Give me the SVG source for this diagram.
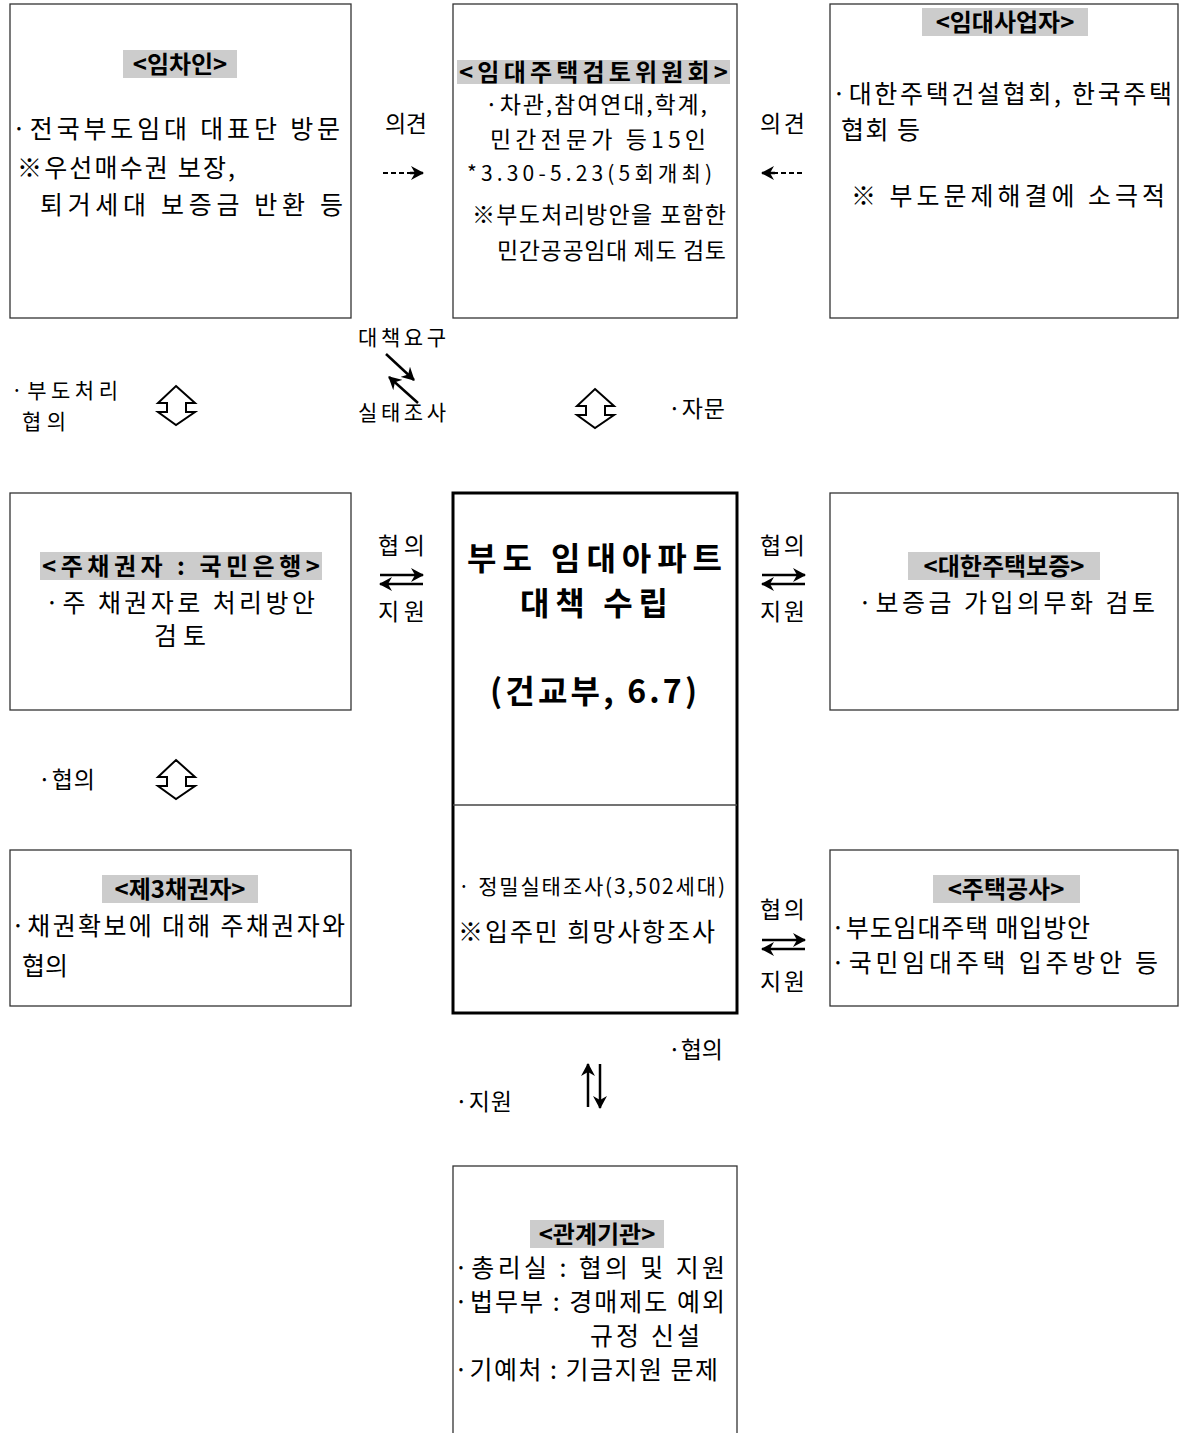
<svg xmlns="http://www.w3.org/2000/svg" width="1182" height="1433" viewBox="0 0 1182 1433">
<style>
.box{fill:#fff;stroke:#333;stroke-width:1.3}
.main{fill:none;stroke:#000;stroke-width:3}
.t{font-family:"Noto Sans CJK KR","Noto Sans",sans-serif;font-size:25px;fill:#000}
.m{font-size:23px}
.s{font-size:21px}
.h{font-weight:bold;font-size:24px}
.big{font-size:32px;font-weight:bold}
.hl{fill:#cccccc}
.ln{stroke:#000;stroke-width:2.5;fill:none}
.dl{stroke:#000;stroke-width:1.8;fill:none;stroke-dasharray:5 3}
.ho{fill:#fff;stroke:#000;stroke-width:2}
</style>
<defs>
<marker id="ah" markerUnits="userSpaceOnUse" markerWidth="14" markerHeight="14" viewBox="0 0 14 14" refX="12" refY="7" orient="auto">
<path d="M0,0 L13,7 L0,14 L4,7 z" fill="#000"/>
</marker>
</defs>
<rect width="1182" height="1433" fill="#fff"/>

<g id="n-tenant">
<rect class="box" x="10" y="4" width="341" height="314"/>
<rect class="hl" x="123" y="50" width="114" height="28"/>
<text class="t h" x="180" y="73" text-anchor="middle">&lt;임차인&gt;</text>
<text class="t" x="12" y="138" textLength="328" lengthAdjust="spacing">·전국부도임대 대표단 방문</text>
<text class="t" x="17" y="177" textLength="218" lengthAdjust="spacing">※우선매수권 보장,</text>
<text class="t" x="40" y="214" textLength="303" lengthAdjust="spacing">퇴거세대 보증금 반환 등</text>
</g>

<g id="n-committee">
<rect class="box" x="453" y="4" width="284" height="314"/>
<rect class="hl" x="457" y="60" width="273" height="24"/>
<text class="t h" x="459" y="81" textLength="269" lengthAdjust="spacing">&lt;임대주택검토위원회&gt;</text>
<text class="t m" x="485" y="113" textLength="222" lengthAdjust="spacing">·차관,참여연대,학계,</text>
<text class="t m" x="490" y="148" textLength="216" lengthAdjust="spacing">민간전문가 등15인</text>
<text class="t s" x="467" y="181" textLength="245" lengthAdjust="spacing">*3.30-5.23(5회개최)</text>
<text class="t m" x="472" y="223" textLength="254" lengthAdjust="spacing">※부도처리방안을 포함한</text>
<text class="t m" x="497" y="259" textLength="229" lengthAdjust="spacing">민간공공임대 제도 검토</text>
</g>

<g id="n-landlord">
<rect class="box" x="830" y="4" width="348" height="314"/>
<rect class="hl" x="922" y="8" width="166" height="28"/>
<text class="t h" x="1005" y="31" text-anchor="middle">&lt;임대사업자&gt;</text>
<text class="t" x="832" y="103" textLength="340" lengthAdjust="spacing">·대한주택건설협회, 한국주택</text>
<text class="t" x="841" y="139" textLength="79" lengthAdjust="spacing">협회 등</text>
<text class="t" x="851" y="205" textLength="314" lengthAdjust="spacing">※ 부도문제해결에 소극적</text>
</g>

<g id="n-mainbank">
<rect class="box" x="10" y="493" width="341" height="217"/>
<rect class="hl" x="40" y="552" width="282" height="28"/>
<text class="t h" x="42" y="575" textLength="278" lengthAdjust="spacing">&lt;주채권자 : 국민은행&gt;</text>
<text class="t" x="45" y="612" textLength="270" lengthAdjust="spacing">·주 채권자로 처리방안</text>
<text class="t" x="180" y="645" text-anchor="middle" textLength="52" lengthAdjust="spacing">검토</text>
</g>

<g id="n-guarantee">
<rect class="box" x="830" y="493" width="348" height="217"/>
<rect class="hl" x="908" y="552" width="192" height="28"/>
<text class="t h" x="1004" y="575" text-anchor="middle">&lt;대한주택보증&gt;</text>
<text class="t" x="858" y="612" textLength="297" lengthAdjust="spacing">·보증금 가입의무화 검토</text>
</g>

<g id="n-center">
<rect class="main" x="453" y="493" width="284" height="520"/>
<line x1="453" y1="805" x2="737" y2="805" stroke="#444" stroke-width="1.5"/>
<text class="t big" x="467" y="570" textLength="255" lengthAdjust="spacing">부도 임대아파트</text>
<text class="t big" x="520" y="615" textLength="148" lengthAdjust="spacing">대책 수립</text>
<text class="t big" x="490" y="703" textLength="207" lengthAdjust="spacing">(건교부, 6.7)</text>
<text class="t s" x="458" y="894" textLength="267" lengthAdjust="spacing">· 정밀실태조사(3,502세대)</text>
<text class="t" x="458" y="941" textLength="257" lengthAdjust="spacing">※입주민 희망사항조사</text>
</g>

<g id="n-third">
<rect class="box" x="10" y="850" width="341" height="156"/>
<rect class="hl" x="102" y="875" width="156" height="28"/>
<text class="t h" x="180" y="898" text-anchor="middle">&lt;제3채권자&gt;</text>
<text class="t" x="11" y="935" textLength="334" lengthAdjust="spacing">·채권확보에 대해 주채권자와</text>
<text class="t" x="22" y="975" textLength="46" lengthAdjust="spacing">협의</text>
</g>

<g id="n-housing">
<rect class="box" x="830" y="850" width="348" height="156"/>
<rect class="hl" x="933" y="875" width="147" height="28"/>
<text class="t h" x="1006" y="898" text-anchor="middle">&lt;주택공사&gt;</text>
<text class="t" x="831" y="937" textLength="259" lengthAdjust="spacing">·부도임대주택 매입방안</text>
<text class="t" x="831" y="972" textLength="327" lengthAdjust="spacing">·국민임대주택 입주방안 등</text>
</g>

<g id="n-agencies">
<rect class="box" x="453" y="1166" width="284" height="290"/>
<rect class="hl" x="530" y="1220" width="134" height="28"/>
<text class="t h" x="597" y="1243" text-anchor="middle">&lt;관계기관&gt;</text>
<text class="t" x="454" y="1277" textLength="271" lengthAdjust="spacing">·총리실 : 협의 및 지원</text>
<text class="t" x="454" y="1311" textLength="271" lengthAdjust="spacing">·법무부 : 경매제도 예외</text>
<text class="t" x="590" y="1345" textLength="110" lengthAdjust="spacing">규정 신설</text>
<text class="t" x="454" y="1379" textLength="264" lengthAdjust="spacing">·기예처 : 기금지원 문제</text>
</g>

<g id="connectors">
<text class="t m" x="385" y="132" textLength="42" lengthAdjust="spacing">의견</text>
<line class="dl" x1="383" y1="173" x2="412" y2="173"/>
<line class="ln" x1="410" y1="173" x2="423" y2="173" stroke-width="1.8" marker-end="url(#ah)"/>
<text class="t m" x="760" y="132" textLength="45" lengthAdjust="spacing">의견</text>
<line class="dl" x1="802" y1="173" x2="773" y2="173"/>
<line class="ln" x1="775" y1="173" x2="762" y2="173" stroke-width="1.8" marker-end="url(#ah)"/>

<text class="t s" x="402" y="345" text-anchor="middle" textLength="88" lengthAdjust="spacing">대책요구</text>
<text class="t s" x="402" y="420" text-anchor="middle" textLength="88" lengthAdjust="spacing">실태조사</text>
<line class="ln" x1="386" y1="354" x2="414" y2="380" marker-end="url(#ah)"/>
<line class="ln" x1="418" y1="403" x2="389" y2="377" marker-end="url(#ah)"/>

<text class="t s" x="11" y="398" textLength="107" lengthAdjust="spacing">·부도처리</text>
<text class="t s" x="22" y="429" textLength="44" lengthAdjust="spacing">협의</text>
<polygon class="ho" points="176,386 195,403 186,403 186,412 195,412 176,425 158,412 167,412 167,403 158,403"/>
<polygon class="ho" points="595,389 614,406 605,406 605,415 614,415 595,428 577,415 586,415 586,406 577,406"/>
<text class="t m" x="668" y="417" textLength="57" lengthAdjust="spacing">·자문</text>

<text class="t m" x="378" y="554" textLength="47" lengthAdjust="spacing">협의</text>
<line class="ln" x1="380" y1="575" x2="423" y2="575" marker-end="url(#ah)"/>
<line class="ln" x1="423" y1="584" x2="380" y2="584" marker-end="url(#ah)"/>
<text class="t m" x="378" y="620" textLength="47" lengthAdjust="spacing">지원</text>

<text class="t m" x="760" y="554" textLength="45" lengthAdjust="spacing">협의</text>
<line class="ln" x1="762" y1="575" x2="805" y2="575" marker-end="url(#ah)"/>
<line class="ln" x1="805" y1="584" x2="762" y2="584" marker-end="url(#ah)"/>
<text class="t m" x="760" y="620" textLength="45" lengthAdjust="spacing">지원</text>

<text class="t m" x="38" y="788" textLength="57" lengthAdjust="spacing">·협의</text>
<polygon class="ho" points="176,760 195,777 186,777 186,786 195,786 176,799 158,786 167,786 167,777 158,777"/>

<text class="t m" x="760" y="918" textLength="45" lengthAdjust="spacing">협의</text>
<line class="ln" x1="762" y1="940" x2="805" y2="940" marker-end="url(#ah)"/>
<line class="ln" x1="805" y1="949" x2="762" y2="949" marker-end="url(#ah)"/>
<text class="t m" x="760" y="990" textLength="45" lengthAdjust="spacing">지원</text>

<text class="t m" x="668" y="1058" textLength="55" lengthAdjust="spacing">·협의</text>
<line class="ln" x1="588" y1="1107" x2="588" y2="1064" marker-end="url(#ah)"/>
<line class="ln" x1="600" y1="1064" x2="600" y2="1108" marker-end="url(#ah)"/>
<text class="t m" x="455" y="1110" textLength="57" lengthAdjust="spacing">·지원</text>
</g>
</svg>
